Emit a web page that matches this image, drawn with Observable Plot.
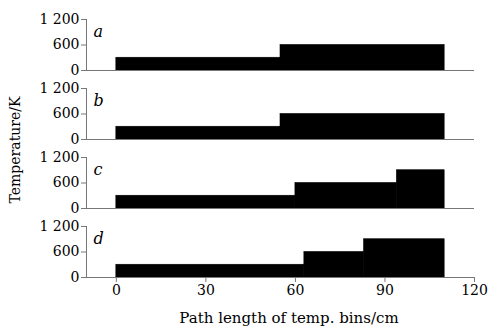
<!DOCTYPE html>
<html>
<head>
<meta charset="utf-8">
<script src="https://cdn.jsdelivr.net/npm/d3@7"></script>
<script src="https://cdn.jsdelivr.net/npm/@observablehq/plot@0.6"></script>
<style>
  html, body { margin: 0; padding: 0; background: #fff; }
  #wrap { position: relative; width: 488px; height: 329px; font-family: "DejaVu Serif", serif; }
  #ylab { position: absolute; left: 15px; top: 150px; transform: translate(-50%, -50%) rotate(-90deg); font-size: 14px; white-space: nowrap; color: #000; }
  #xlab { position: absolute; left: 289px; top: 318px; transform: translate(-50%, -50%); font-size: 15px; white-space: nowrap; color: #000; }
</style>
</head>
<body>
<div id="wrap">
  <div id="chart"></div>
  <div id="ylab">Temperature/K</div>
  <div id="xlab">Path length of temp. bins/cm</div>
</div>
<script>
// Panels and their temperature bins (bin edges in cm, temperatures in K)
const panels = ["a", "b", "c", "d"];
const binEdges = {
  a: [0, 55, 110],
  b: [0, 55, 110],
  c: [0, 60, 94, 110],
  d: [0, 63, 83, 110]
};
const binTemps = {
  a: [300, 600],
  b: [300, 600],
  c: [300, 600, 900],
  d: [300, 600, 900]
};
const xTicks = [0, 30, 60, 90, 120];
const yTicks = [0, 600, 1200];
const yTickLabels = ["0", "600", "1 200"];

const bins = [];
for (const p of panels) {
  const e = binEdges[p], t = binTemps[p];
  for (let i = 0; i < t.length; i++) bins.push({panel: p, x1: e[i], x2: e[i + 1], temp: t[i]});
}
const panelRows = panels.map(p => ({panel: p}));

const chart = Plot.plot({
  width: 488,
  height: 329,
  marginLeft: 86,
  marginRight: 14,
  marginTop: 18,
  marginBottom: 50,
  style: {fontFamily: "DejaVu Serif, serif", fontSize: "14px", background: "#fff", color: "#000"},
  x: {domain: [-10, 120]},
  y: {domain: [0, 1200]},
  fy: {domain: panels, paddingInner: 0.254, paddingOuter: 0, axis: null},
  marks: [
    Plot.rect(bins, {x1: "x1", x2: "x2", y1: 0, y2: "temp", fy: "panel", fill: "#000", stroke: "#000", strokeWidth: 0.6}),
    Plot.ruleY(panelRows, {y: 0, fy: "panel", stroke: "#777", strokeWidth: 1}),
    Plot.ruleX(panelRows, {x: -10, y1: 0, y2: 1200, fy: "panel", stroke: "#777", strokeWidth: 1}),
    Plot.axisY({ticks: yTicks, tickFormat: d => yTickLabels[yTicks.indexOf(d)], tickSize: 5, tickPadding: 2, stroke: "#777", fill: "#000", label: null, fontSize: 14}),
    Plot.axisX({ticks: xTicks, tickSize: 5, tickPadding: 3, stroke: "#777", fill: "#000", label: null, fontSize: 14}),
    Plot.text(panelRows, {text: "panel", fy: "panel", frameAnchor: "top-left", lineAnchor: "middle", textAnchor: "start", dx: 7, dy: 12, fontStyle: "italic", fontSize: 16, fill: "#000"})
  ]
});
document.getElementById("chart").appendChild(chart);
</script>
</body>
</html>
